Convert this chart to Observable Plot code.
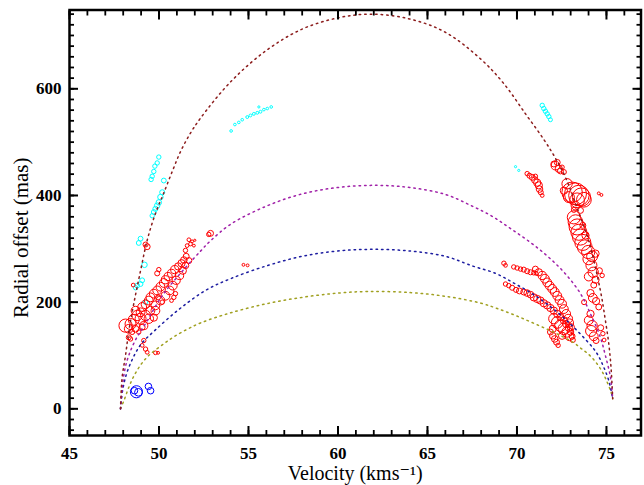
<!DOCTYPE html>
<html>
<head>
<meta charset="utf-8">
<script src="https://cdn.jsdelivr.net/npm/d3@7"></script>
<script src="https://cdn.jsdelivr.net/npm/@observablehq/plot@0.6"></script>
<style>
  html, body { margin: 0; padding: 0; background: #fff; }
  svg text { font-family: "Liberation Serif", "DejaVu Serif", "Times New Roman", serif !important; }
</style>
</head>
<body>
<div id="chart"></div>
<script>
// ---- Data: [velocity (km/s), radial offset (mas), relative flux] ----
const redLeft = [
  [48.13,156,6],[48.41,159,5],[48.31,150,4],[48.59,167,5],[48.78,175,4.7],[48.69,184,4],
  [48.97,181,4],[49.06,191,4],[49.25,196,4],[49.43,203,4],[49.52,209,4],[49.71,216,4],
  [49.90,222,4],[50.08,229,4],[50.27,236,4],[50.36,242,3.7],[50.51,248,3.7],[50.70,254,3.7],
  [50.88,261,3.7],[51.07,267,3.3],[51.26,273,3.3],[51.39,279,3],[51.52,286,2.7],
  [48.97,169,5],[49.25,175,4.7],[49.52,184,4],[49.80,194,4],[50.08,203,4],[50.36,212,4],
  [50.59,222,4],[50.77,231,4],[50.96,241,3.7],[51.15,250,3.7],[51.33,259,3.3],[51.48,269,3],
  [51.67,278,2.7],
  [49.43,169,4.3],[49.71,171,3.3],[49.80,184,4],[49.15,156,3.7],[48.69,150,3],[48.50,144,2.3],
  [48.31,134,2.3],[48.41,131,2],[49.06,153,2.7],[48.87,144,2],[49.95,209,2.3],[50.18,200,2],
  [50.83,209,2],[50.92,216,2],[50.70,203,1.7],[49.90,254,2.3],[49.99,261,2],[49.34,304,2.7],
  [49.25,308,2.3],[48.56,232,1.7],[49.15,128,2],[49.06,119,1.7],[49.25,112,2],[49.34,106,1.7],
  [49.80,105,1.7],[49.95,105,1.3],
  [51.67,317,1.7],[51.76,309,1.7],[51.95,306,1.3],[51.85,314,1.3],[51.57,306,1.7],[52.00,316,1],
  [51.48,297,2],[52.88,329,2.7],[52.78,327,2],[54.72,270,1.3],[54.95,269,1.3]
];
const redRight = [
  [72.15,456,4],[72.06,459,2.7],[72.25,462,2.7],[72.34,450,3.3],[72.43,446,2.7],[72.62,444,2.3],
  [72.52,453,2],
  [70.57,441,2],[70.70,437,2.3],[70.85,434,2.7],[71.00,429,3],[71.13,424,3.3],[71.22,419,3.3],
  [71.26,412,3],[71.33,406,2.3],[71.41,400,1.7],[71.03,436,2],
  [72.80,422,4.7],[73.08,406,9.3],[73.27,403,10],[73.46,400,9.3],[73.60,397,8.3],[73.74,392,6.7],
  [73.36,391,6.7],[72.90,397,5],[72.62,409,3.3],[73.27,381,4],[73.55,372,2.7],[73.18,373,2.3],
  [74.57,404,1.3],[74.72,401,1.3],
  [73.18,359,6],[73.27,350,6.7],[73.36,341,7.3],[73.46,331,7.3],[73.55,322,7.3],[73.68,312,7.3],
  [73.79,303,6.7],[73.98,294,6],[74.20,286,5],[74.39,291,3.3],[73.83,325,3.3],[73.68,344,2.7],
  [74.01,281,5.3],[74.16,269,5],[74.26,256,4.7],[74.01,248,4],[74.39,242,3.3],[74.29,232,2.7],
  [74.61,259,2.7],[74.76,250,2],
  [74.11,217,3.3],[74.24,208,4],[74.42,202,3.3],[74.57,191,2.7],[73.75,200,2.3],[74.11,178,3.3],
  [74.01,166,4],[74.20,156,4.7],[74.14,146,5],[74.29,136,4],[74.42,128,2.7],[74.68,152,2.7],
  [74.80,141,2],[74.87,129,1.7],
  [69.27,273,2],[69.36,269,1.7],
  [69.82,266,2],[70.01,264,2],[70.20,262,2],[70.38,261,2.3],[70.57,258,2.3],[70.76,256,2.3],
  [70.94,255,2],[71.07,254,1.7],
  [69.36,234,2],[69.54,231,2],[69.73,227,2.3],[69.95,223,2.3],[70.14,221,2.7],[70.38,219,2.7],
  [70.57,217,3],[70.76,214,3],[70.94,209,3.3],[71.13,206,3.3],[71.31,203,3.3],[71.50,198,3.3],
  [71.69,194,3.3],[71.87,189,3.3],[72.06,184,3.3],[72.25,178,3.3],[72.43,172,3.3],[72.62,166,3.3],
  [72.75,159,3.3],[72.90,152,3.3],[72.99,144,3],[73.08,136,2.7],[73.12,129,2.3],
  [71.03,262,2.7],[71.22,256,3.3],[71.41,250,3.7],[71.56,244,4],[71.69,237,4],[71.82,231,4],
  [71.97,225,4],[72.11,219,4],[72.25,212,4],[72.38,204,4],[72.52,197,4],[72.62,187,4],
  [72.75,178,4],[72.86,169,4],[72.93,161,3.7],[73.01,153,3.3],
  [72.06,169,4.7],[72.25,162,5.3],[72.43,156,5.3],[72.62,150,5.3],[72.80,144,4.7],[72.93,136,4],
  [72.52,137,3.3],[72.00,150,3.3],[71.87,144,2.7],[72.00,137,3],[72.11,131,3],[72.21,125,2.7],
  [72.30,119,2]
];
const cyanSpots = [
  [49.99,472,2],[49.90,461,2],[49.77,455,2],[49.71,445,2],[49.62,436,2],[49.56,430,2],[50.27,428,2.2],
  [50.18,406,2.3],[50.08,397,2.5],[49.99,387,2.5],[49.90,381,2.5],[49.80,375,2.3],[49.71,369,2.2],
  [49.62,362,2],[48.97,319,2.2],[48.87,311,2.2],[49.19,270,2.5],[49.06,241,2.2],[48.97,234,2.2],
  [48.78,231,2.2],[48.69,227,2],[49.25,200,2],
  [54.03,521,1.2],[54.24,533,1.2],[54.46,537,1.2],[54.65,542,1.2],[54.93,547,1.3],[55.11,550,1.3],
  [55.30,553,1.3],[55.49,555,1.3],[55.67,557,1.3],[55.86,561,1.2],[56.05,563,1.2],[56.27,566,1.2],
  [55.58,566,1],
  [71.41,569,2],[71.50,563,2],[71.59,558,2],[71.69,553,2],[71.78,548,2],[71.87,542,1.8],
  [69.92,454,1],[70.10,447,1]
];
const blueSpots = [
  [48.74,32,5.5],[48.85,31,3.5],[48.63,34,3],[49.41,42,3],[49.53,34,3]
];
// Dotted model curves: [velocity, radial offset]
const curveBrown = [[47.85,0],[47.94,59],[48.13,100],[48.31,145],[48.59,197],[48.97,259],[49.34,316],
  [49.8,366],[50.27,405],[50.74,445],[51.2,482],[51.76,517],[52.32,545],[54,613],[56,672],[58,712],
  [60,733],[61.8,740],[64,731],[66,706],[68,655],[69.26,610],[70.5,552],[71.5,505],[72.15,470],
  [72.71,434],[73.55,359],[74.01,315],[74.66,222],[74.94,166],[75.13,122],[75.25,80],[75.32,40],[75.35,19]];
const curvePurple = [[47.85,0],[47.95,40],[48.1,75],[48.31,100],[48.7,130],[49.25,160],[50.18,212],
  [51.3,258],[52.3,295],[52.88,315],[54,346],[56,380],[58,403],[60,415],[62.1,419],[64,415],[66,402],
  [67.5,380],[68.61,361],[69.64,338],[70.75,312],[71.78,284],[72.71,253],[73.55,216],[74.11,178],
  [74.66,134],[74.94,100],[75.22,60],[75.35,19]];
const curveBlue = [[47.85,0],[47.97,35],[48.18,65],[48.5,92],[48.97,120],[49.8,148],[51.1,186],
  [52.6,222],[54,244],[56,268],[58,286],[60,296],[61.93,299],[64,296],[66,286],[67.5,268],[68.8,254],
  [69.92,234],[71.03,212],[72.15,184],[73.08,156],[73.83,130],[74.3,112],[74.57,98],[74.85,78],
  [75.13,53],[75.35,19]];
const curveOlive = [[47.85,0],[48.07,18],[48.31,40],[48.59,61],[48.97,82],[49.43,100],[50.27,122],
  [50.83,135],[51.57,149],[52.32,161],[54,180],[56,197],[58,209],[60,217],[61.7,220],[64,218],
  [66,211],[68,198],[68.9,188],[69.92,175],[71.03,159],[72.15,142],[73.17,124],[73.55,114],
  [74.01,102],[74.39,88],[74.76,70],[75.04,50],[75.25,32],[75.35,19]];

const xMajor = [45, 50, 55, 60, 65, 70, 75];
const xMinor = d3.range(45, 77, 1);
const yMajor = [0, 200, 400, 600];
const yMinor = d3.range(-40, 748, 20);
const xTitle = "Velocity (kms\u207B\u00B9)";
const yTitle = "Radial offset (mas)";

const serif = "Liberation Serif, DejaVu Serif, serif";
const spot = (data, color) => Plot.dot(data, {
  x: d => d[0], y: d => d[1], r: d => d[2],
  stroke: color, strokeWidth: 1, fill: "none"
});
const curve = (data, color) => Plot.line(data, {
  x: d => d[0], y: d => d[1], stroke: color, strokeWidth: 1.5,
  strokeDasharray: "1.5,4", curve: "catmull-rom"
});
const noText = () => "";

const chart = Plot.plot({
  width: 644,
  height: 485,
  marginLeft: 69,
  marginRight: 3.5,
  marginTop: 9.5,
  marginBottom: 50,
  x: {domain: [45, 76.93]},
  y: {domain: [-50, 747.75]},
  r: {type: "linear", domain: [0, 10], range: [0, 11]},
  style: {fontFamily: serif, background: "#fff", color: "#000"},
  marks: [
    spot(blueSpots, "#0000ff"),
    spot(cyanSpots, "#00ffff"),
    spot(redLeft, "#ff0000"),
    spot(redRight, "#ff0000"),
    curve(curveOlive, "#a0a020"),
    curve(curveBlue, "#1c1ca0"),
    curve(curvePurple, "#a020a8"),
    curve(curveBrown, "#8c1c1c"),
    // minor ticks (inward)
    Plot.axisX(xMinor, {anchor: "bottom", tickSize: -5, tickFormat: noText, label: null, strokeWidth: 1.8}),
    Plot.axisX(xMinor, {anchor: "top", tickSize: -5, tickFormat: noText, label: null, strokeWidth: 1.8}),
    Plot.axisY(yMinor, {anchor: "left", tickSize: -5, tickFormat: noText, label: null, strokeWidth: 1.8}),
    Plot.axisY(yMinor, {anchor: "right", tickSize: -5, tickFormat: noText, label: null, strokeWidth: 1.8}),
    // major ticks (inward)
    Plot.axisX(xMajor, {anchor: "bottom", tickSize: -9, tickFormat: noText, label: null, strokeWidth: 2}),
    Plot.axisX(xMajor, {anchor: "top", tickSize: -9, tickFormat: noText, label: null, strokeWidth: 2}),
    Plot.axisY(yMajor, {anchor: "left", tickSize: -9, tickFormat: noText, label: null, strokeWidth: 2}),
    Plot.axisY(yMajor, {anchor: "right", tickSize: -9, tickFormat: noText, label: null, strokeWidth: 2}),
    // tick labels
    Plot.axisX(xMajor, {anchor: "bottom", tickSize: 0, tickPadding: 11, label: null, fontSize: 17, fontWeight: "bold", fontFamily: serif}),
    Plot.axisY(yMajor, {anchor: "left", tickSize: 0, tickPadding: 8, label: null, fontSize: 17, fontWeight: "bold", fontFamily: serif}),
    Plot.frame({stroke: "#000", strokeWidth: 2.5}),
    Plot.text([xTitle], {frameAnchor: "bottom", dy: 44, fontSize: 20, fontFamily: serif, textAnchor: "middle", text: d => d}),
    Plot.text([yTitle], {frameAnchor: "left", dx: -48, dy: 15, rotate: -90, fontSize: 21, fontFamily: serif, textAnchor: "middle", text: d => d})
  ]
});
document.getElementById("chart").appendChild(chart);
</script>
</body>
</html>
